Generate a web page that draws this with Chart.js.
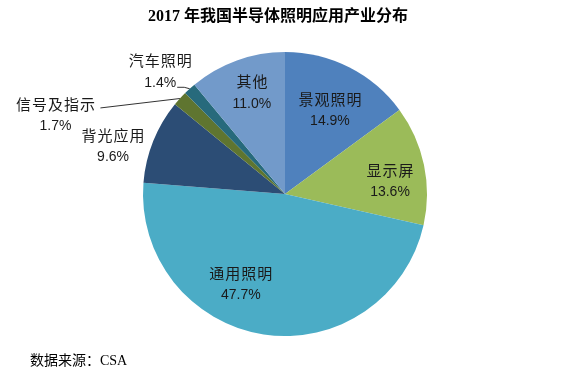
<!DOCTYPE html>
<html><head><meta charset="utf-8">
<script src="https://cdn.jsdelivr.net/npm/chart.js@4/dist/chart.umd.min.js"></script>
<style>html,body{margin:0;padding:0;background:#fff;}#wrap{width:583px;height:375px;position:relative;}</style>
</head><body><div id="wrap"><canvas id="c" width="583" height="375"></canvas></div>
<script>
const categories = ['景观照明','显示屏','通用照明','背光应用','信号及指示','汽车照明','其他'];
const shares = [14.9, 13.6, 47.7, 9.6, 1.7, 1.4, 11.0];
const percentLabels = ['14.9%','13.6%','47.7%','9.6%','1.7%','1.4%','11.0%'];
const sliceColors = ['#4F81BD','#9BBB59','#4BACC6','#2C4D75','#5F7530','#276A7C','#729ACA'];
const titleText = '2017 年我国半导体照明应用产业分布';
const sourceText = '数据来源：CSA';

// label layout: polar position (deg clockwise from top, fraction of radius), optional leader anchor offset
const labelLayout = [
  {a: 28.2, f: 0.67},
  {a: 82.9, f: 0.745},
  {a: 206, f: 0.71},
  {a: 285.4, f: 1.256},
  {a: 289, f: 1.71, lead: [45, -7]},
  {a: 314.4, f: 1.23, lead: [17, 15.5], elbow: 7},
  {a: 341.9, f: 0.75}
];

const labelPlugin = {
  id: 'labels',
  afterDraw(chart) {
    const ctx = chart.ctx;
    const meta = chart.getDatasetMeta(0);
    ctx.save();
    // title
    ctx.fillStyle = '#000';
    ctx.textAlign = 'center';
    ctx.textBaseline = 'middle';
    ctx.font = "bold 16px 'Liberation Serif', 'Noto Sans CJK SC', serif";
    ctx.fillText(titleText, 278, 17);
    // source
    ctx.textAlign = 'left';
    ctx.font = "14px 'Liberation Serif', 'Noto Sans CJK SC', serif";
    ctx.fillText(sourceText, 30, 361);

    meta.data.forEach((arc, i) => {
      const L = labelLayout[i];
      const cx = arc.x, cy = arc.y, R = arc.outerRadius;
      const ang = L.a * Math.PI / 180;
      const lx = cx + Math.sin(ang) * R * L.f;
      const ly = cy - Math.cos(ang) * R * L.f;
      ctx.fillStyle = '#1a1a1a';
      ctx.textAlign = 'center';
      ctx.textBaseline = 'middle';
      ctx.font = "15px 'Noto Sans CJK SC', sans-serif";
      ctx.letterSpacing = '1px';
      ctx.fillText(categories[i], lx + 0.5, ly - 11);
      ctx.letterSpacing = '0px';
      ctx.font = "14px 'Liberation Sans Narrow', 'Liberation Sans', sans-serif";
      ctx.fillText(percentLabels[i], lx, ly + 11);
      if (L.lead) {
        const mid = (arc.startAngle + arc.endAngle) / 2;
        const ex = cx + Math.cos(mid) * R;
        const ey = cy + Math.sin(mid) * R;
        const sx = lx + L.lead[0], sy = ly + L.lead[1];
        ctx.strokeStyle = '#333';
        ctx.lineWidth = 1;
        ctx.beginPath();
        ctx.moveTo(sx, sy);
        if (L.elbow) ctx.lineTo(sx + L.elbow, sy);
        ctx.lineTo(ex, ey);
        ctx.stroke();
      }
    });
    ctx.restore();
  }
};

new Chart(document.getElementById('c'), {
  type: 'pie',
  data: {
    labels: categories,
    datasets: [{ data: shares, backgroundColor: sliceColors, borderWidth: 0 }]
  },
  options: {
    responsive: false,
    animation: false,
    layout: { padding: { top: 52, bottom: 39, left: 143, right: 156 } },
    plugins: { legend: { display: false }, tooltip: { enabled: false }, title: { display: false } }
  },
  plugins: [labelPlugin]
});
</script>
</body></html>
